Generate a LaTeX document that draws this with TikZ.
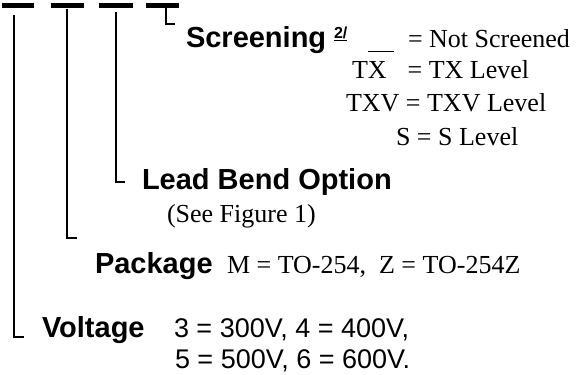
\documentclass[tikz,border=0pt]{standalone}
\usepackage{fontspec}
\setmainfont{Liberation Serif}
\setsansfont{Liberation Sans}
\usetikzlibrary{positioning}

\begin{document}
\begin{tikzpicture}[
    x=1pt, y=-1pt,
    every node/.style={
        inner sep=0pt,
        outer sep=0pt,
        anchor=base west
    },
    heading/.style={font=\sffamily\bfseries\fontsize{29}{34}\selectfont},
    choice/.style={font=\rmfamily\fontsize{26}{30}\selectfont},
    value/.style={font=\sffamily\fontsize{27}{31}\selectfont},
    note/.style={font=\sffamily\bfseries\fontsize{16}{18}\selectfont},
    bar/.style={line width=4.5pt},
    leader/.style={line width=1.6pt}
]

\useasboundingbox (0,0) rectangle (576,375);

% part number fields
\draw[bar] (2,5.5) -- (34,5.5);
\draw[bar] (51,5.5) -- (84,5.5);
\draw[bar] (99,5.5) -- (133,5.5);
\draw[bar] (146,5.5) -- (179,5.5);

\coordinate (volttop) at (14,15);
\coordinate (voltend) at (24,337);
\coordinate (pkgtop) at (67,9);
\coordinate (pkgend) at (77,238);
\coordinate (leadtop) at (116,12);
\coordinate (leadend) at (125,182);
\coordinate (scrtop) at (166,7);
\coordinate (scrend) at (175,24);

\draw[leader] (volttop) |- (voltend);
\draw[leader] (pkgtop) |- (pkgend);
\draw[leader] (leadtop) |- (leadend);
\draw[leader] (scrtop) |- (scrend);

% screening
\node (scr) [heading] at (186,47) {Screening};
\node (scrnote) [note] at (334,38) {\underline{2/}};
\node (notscr) [choice] at (368,47)
    {\rule[-5pt]{26pt}{1.2pt}\hspace{14pt}= Not Screened};
\node (tx) [choice] at (352,78) {TX\hspace{21pt}= TX Level};
\node (txv) [choice] at (346,111) {TXV = TXV Level};
\node (slevel) [choice] at (396,145) {S = S Level};

% lead bend
\node (lead) [heading] at (142,189) {Lead Bend Option};
\node (seefig) [choice] at (167,222) {(See Figure 1)};

% package
\node (pkg) [heading] at (95,273) {Package};
\node (pkgval) [choice] at (227,273) {M = TO-254,\ \ Z = TO-254Z};

% voltage
\node (volt) [heading] at (42,337) {Voltage};
\node (volta) [value] at (174,337) {3 = 300V, 4 = 400V,};
\node (voltb) [value] at (175,368) {5 = 500V, 6 = 600V.};

\end{tikzpicture}
\end{document}
